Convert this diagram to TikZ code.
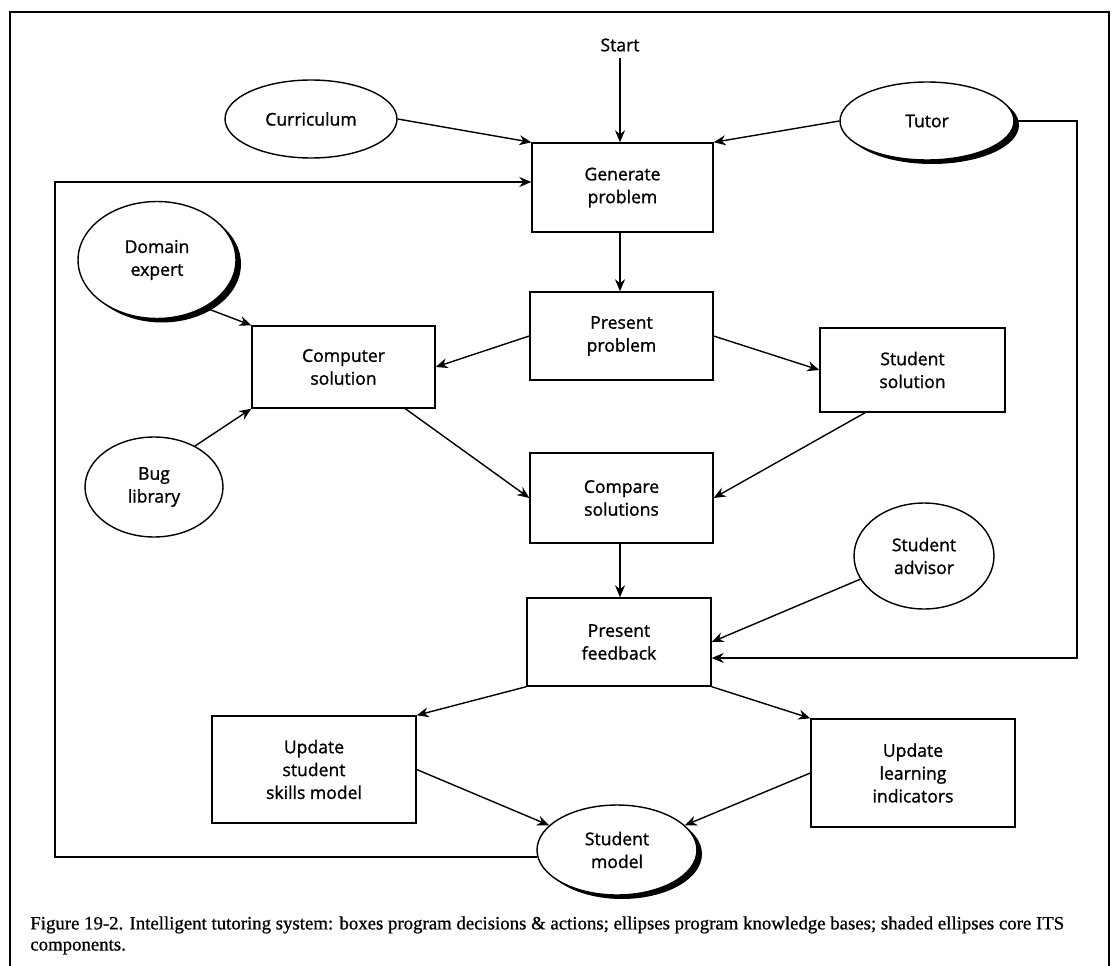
\documentclass[tikz,border=0pt]{standalone}
\usepackage{fontspec}
\setmainfont{Open Sans}[FakeBold=1.2]
\newfontfamily\capfont{Liberation Serif}[FakeBold=0.8]
\usetikzlibrary{shapes.geometric}
\usetikzlibrary{shadows}
\usetikzlibrary{arrows.meta}

\begin{document}
\begin{tikzpicture}[
		x=0.02cm, y=-0.02cm,
		font=\fontsize{10}{13}\selectfont,
		b/.style = {rectangle, draw, line width=0.8pt, align=center, fill=white},
		e/.style = {ellipse, draw, line width=0.8pt, align=center, inner sep=0pt, fill=white},
		k/.style = {e, drop shadow={shadow xshift=0.1cm, shadow yshift=-0.08cm, fill=black, opacity=1}},
		r/.style = {-{Stealth[length=0.24cm, width=0.2cm]}, line width=0.8pt}
		]
		\useasboundingbox (0,0) rectangle (1115,966);
		
		%Frame
		\draw[line width=0.9pt] (10,966) -- (10,12) -- (1109,12) -- (1109,966);
		
		%Nodes
		\node		(start)	at	(620, 45)		{Start};
		\node[b, minimum width=3.62cm, minimum height=1.78cm]	(gen)	at	(622.5, 187.5)	{Generate\\problem};
		\node[b, minimum width=3.66cm, minimum height=1.76cm]	(pres)	at	(621.5, 336)	{Present\\problem};
		\node[b, minimum width=3.66cm, minimum height=1.64cm]	(comp)	at	(343.5, 367)	{Computer\\solution};
		\node[b, minimum width=3.70cm, minimum height=1.68cm]	(stud)	at	(912.5, 370)	{Student\\solution};
		\node[b, minimum width=3.66cm, minimum height=1.80cm]	(cmpr)	at	(621.5, 498)	{Compare\\solutions};
		\node[b, minimum width=3.68cm, minimum height=1.76cm]	(feed)	at	(619, 642)		{Present\\feedback};
		\node[b, minimum width=4.08cm, minimum height=2.14cm]	(upsk)	at	(314, 769.5)	{Update\\student\\skills model};
		\node[b, minimum width=4.08cm, minimum height=2.16cm]	(upli)	at	(913, 773)		{Update\\learning\\indicators};
		
		\node[e, minimum width=3.44cm, minimum height=1.56cm]	(cur)	at	(311, 119)		{Curriculum};
		\node[k, minimum width=3.48cm, minimum height=1.56cm]	(tut)	at	(927, 121)		{Tutor};
		\node[k, minimum width=3.16cm, minimum height=2.34cm]	(dom)	at	(157, 260)		{Domain\\expert};
		\node[e, minimum width=2.76cm, minimum height=2.00cm]	(bug)	at	(154, 487)		{Bug\\library};
		\node[e, minimum width=2.80cm, minimum height=2.12cm]	(adv)	at	(924, 556)		{Student\\advisor};
		\node[k, minimum width=3.20cm, minimum height=1.80cm]	(smod)	at	(617, 850)		{Student\\model};
		
		\coordinate	(rt)	at	(1077, 658);
		\coordinate	(lt)	at	(55, 182);
		
		%Caption
		\node[anchor=north west, align=left, inner sep=0pt, font=\capfont\fontsize{10.7}{12}\selectfont]	(cap)	at	(30, 916)
			{Figure 19-2. Intelligent tutoring system: boxes program decisions \& actions; ellipses program knowledge bases; shaded ellipses core ITS\\components.};
		
		%Lines
		\draw[r]	(start.south)	--	(start.south |- gen.north);
		\draw[r]	(cur.east)		--	(gen.north west);
		\draw[r]	(tut.west)		--	(gen.north east);
		\draw[r]	(gen.south -| start)	--	(pres.north -| start);
		\draw[r]	(pres.west)		--	(comp.east);
		\draw[r]	(pres.east)		--	(stud.west);
		\draw[r]	(dom.-45)		--	(comp.north west);
		\draw[r]	(bug.45)		--	(comp.south west);
		\draw[r]	(comp.-34)		--	(cmpr.west);
		\draw[r]	(stud.-138)		--	(cmpr.east);
		\draw[r]	(cmpr.south -| start)	--	(feed.north -| start);
		\draw[r]	(adv.200)		--	(feed.east);
		\draw[r]	(tut.east)		-|	(rt)	--	(feed.east |- rt);
		\draw[r]	(feed.south west)	--	(upsk.north east);
		\draw[r]	(feed.south east)	--	(upli.north west);
		\draw[r]	(upsk.east)		--	(smod.160);
		\draw[r]	(upli.west)		--	(smod.20);
		\draw[r]	(smod.185)		-|	(lt)	--	(gen.west |- lt);
	\end{tikzpicture}
\end{document}
